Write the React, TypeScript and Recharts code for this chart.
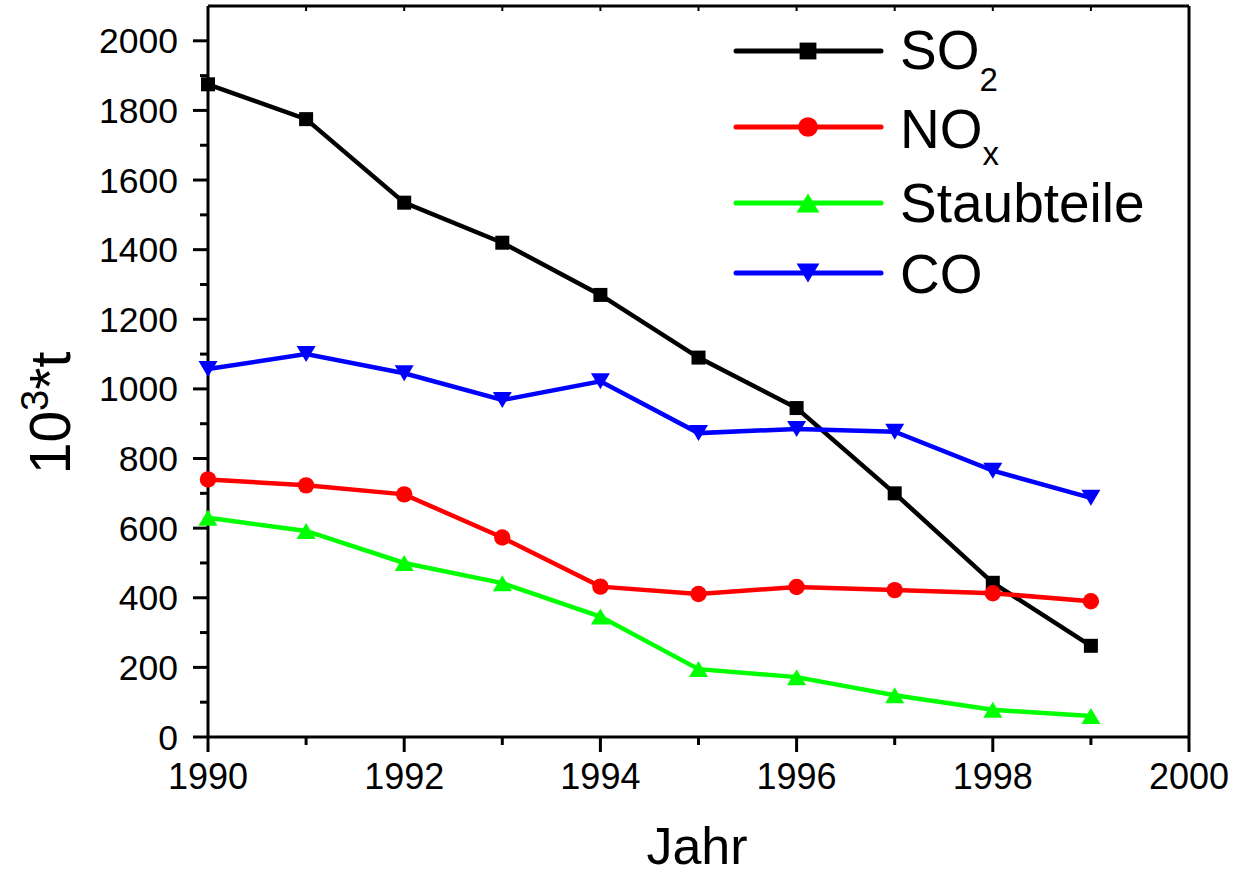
import React from 'react';
import { LineChart, Line, XAxis, YAxis } from 'recharts';

const years = [1990, 1991, 1992, 1993, 1994, 1995, 1996, 1997, 1998, 1999];
const so2 = [1875, 1775, 1535, 1420, 1270, 1090, 945, 700, 443, 262];
const nox = [740, 723, 697, 573, 432, 411, 431, 422, 413, 390];
const staub = [630, 592, 500, 442, 346, 195, 172, 120, 78, 60];
const co = [1057, 1100, 1045, 968, 1022, 873, 885, 877, 765, 687];

const xTicks = [1990, 1991, 1992, 1993, 1994, 1995, 1996, 1997, 1998, 1999, 2000];
const yTicks = [0, 100, 200, 300, 400, 500, 600, 700, 800, 900, 1000, 1100, 1200, 1300, 1400, 1500, 1600, 1700, 1800, 1900, 2000];
const yTopTicks = [...yTicks, 2100];

const seriesNames = ['SO', 'NO', 'Staubteile', 'CO'];
const seriesSubs = ['2', 'x', '', ''];
const seriesKeys = ['so2', 'nox', 'staub', 'co'];
const seriesColors = ['#000000', '#ff0000', '#00ff00', '#0000ff'];
const seriesShapes = ['square', 'circle', 'up', 'down'];

const data = years.map((y, i) => ({ year: y, so2: so2[i], nox: nox[i], staub: staub[i], co: co[i] }));

const FONT = '"Liberation Sans", Arial, sans-serif';

function marker(shape: string, cx: number, cy: number, color: string, s: number, key?: string) {
  if (shape === 'square') return <rect key={key} x={cx - 7 * s} y={cy - 7 * s} width={14 * s} height={14 * s} fill={color} />;
  if (shape === 'circle') return <circle key={key} cx={cx} cy={cy} r={8.2 * s} fill={color} />;
  if (shape === 'up')
    return (
      <polygon
        key={key}
        points={`${cx - 9.5 * s},${cy + 8 * s} ${cx + 9.5 * s},${cy + 8 * s} ${cx},${cy - 8 * s}`}
        fill={color}
      />
    );
  return (
    <polygon
      key={key}
      points={`${cx - 9.5 * s},${cy - 8 * s} ${cx + 9.5 * s},${cy - 8 * s} ${cx},${cy + 8 * s}`}
      fill={color}
    />
  );
}

const makeDot = (shape: string, color: string) => (props: any) => {
  const { cx, cy, index } = props;
  if (cx == null || cy == null) return <g key={`e-${index}`} />;
  return marker(shape, cx, cy, color, 1, `${shape}-${index}`);
};

const XTick = (props: any) => {
  const { x, y, payload } = props;
  const major = payload.value % 2 === 0;
  return (
    <g>
      <line x1={x} x2={x} y1={y - 15} y2={y - 15 + (major ? 15 : 8)} stroke="#000" strokeWidth={3} />
      {major && (
        <text x={x} y={y + 37} textAnchor="middle" fontSize={36} fontFamily={FONT} fill="#000">
          {payload.value}
        </text>
      )}
    </g>
  );
};

const YTick = (props: any) => {
  const { x, y, payload } = props;
  const major = payload.value % 200 === 0;
  return (
    <g>
      <line x1={x + 15 - (major ? 15 : 8)} x2={x + 15} y1={y} y2={y} stroke="#000" strokeWidth={3} />
      {major && (
        <text x={x - 15} y={y + 12.5} textAnchor="end" fontSize={35.5} fontFamily={FONT} fill="#000">
          {payload.value}
        </text>
      )}
    </g>
  );
};

const legendRows = [51, 127, 203, 273];
const legendBase = [69, 148, 222, 293];
const subShift = [22, 17, 0, 0];

export default function App() {
  return (
    <div style={{ position: 'absolute', left: 0, top: 0, width: 1241, height: 874, background: '#fff' }}>
      <LineChart width={1241} height={874} data={data} margin={{ top: 6, right: 52, bottom: 0, left: 108 }}>
        <XAxis
          xAxisId="main"
          dataKey="year"
          type="number"
          domain={[1990, 2000]}
          ticks={xTicks}
          interval={0}
          height={137}
          tickSize={15}
          tickMargin={0}
          tickLine={false}
          tick={<XTick />}
          axisLine={{ stroke: '#000', strokeWidth: 3 }}
        />
        <XAxis
          xAxisId="top"
          orientation="top"
          dataKey="year"
          type="number"
          domain={[1990, 2000]}
          ticks={xTicks}
          interval={0}
          height={1}
          mirror
          tickSize={5}
          tickFormatter={() => ''}
          tickLine={{ stroke: '#000', strokeWidth: 2 }}
          axisLine={{ stroke: '#000', strokeWidth: 3 }}
        />
        <YAxis
          yAxisId="main"
          type="number"
          domain={[0, 2100]}
          ticks={yTicks}
          interval={0}
          width={100}
          tickSize={15}
          tickMargin={0}
          tickLine={false}
          tick={<YTick />}
          axisLine={{ stroke: '#000', strokeWidth: 3 }}
        />
        <YAxis
          yAxisId="right"
          orientation="right"
          type="number"
          domain={[0, 2100]}
          ticks={yTopTicks}
          interval={0}
          width={1}
          mirror
          tickSize={5}
          tickFormatter={() => ''}
          tickLine={{ stroke: '#000', strokeWidth: 2 }}
          axisLine={{ stroke: '#000', strokeWidth: 3 }}
        />
        {seriesKeys.map((k, i) => (
          <Line
            key={k}
            xAxisId="main"
            yAxisId="main"
            type="linear"
            dataKey={k}
            stroke={seriesColors[i]}
            strokeWidth={4.5}
            dot={makeDot(seriesShapes[i], seriesColors[i])}
            activeDot={false}
            isAnimationActive={false}
          />
        ))}
      </LineChart>
      <svg
        width={1241}
        height={874}
        style={{ position: 'absolute', left: 0, top: 0, pointerEvents: 'none' }}
        fontFamily={FONT}
      >
        {seriesKeys.map((k, i) => (
          <g key={k}>
            <line
              x1={736}
              x2={881}
              y1={legendRows[i]}
              y2={legendRows[i]}
              stroke={seriesColors[i]}
              strokeWidth={5}
              strokeLinecap="round"
            />
            {marker(seriesShapes[i], 808, legendRows[i], seriesColors[i], 1.2)}
            <text x={900} y={legendBase[i]} fontSize={55} fill="#000">
              {seriesNames[i]}
              {seriesSubs[i] && (
                <tspan fontSize={33} dy={subShift[i]}>
                  {seriesSubs[i]}
                </tspan>
              )}
            </text>
          </g>
        ))}
        <text x={697} y={864} textAnchor="middle" fontSize={52} fill="#000">
          Jahr
        </text>
        <text transform="translate(70,413) rotate(-90)" textAnchor="middle" fontSize={57} fill="#000">
          10
          <tspan fontSize={38} dy={-22}>3</tspan>
          <tspan dy={22}>*t</tspan>
        </text>
      </svg>
    </div>
  );
}
